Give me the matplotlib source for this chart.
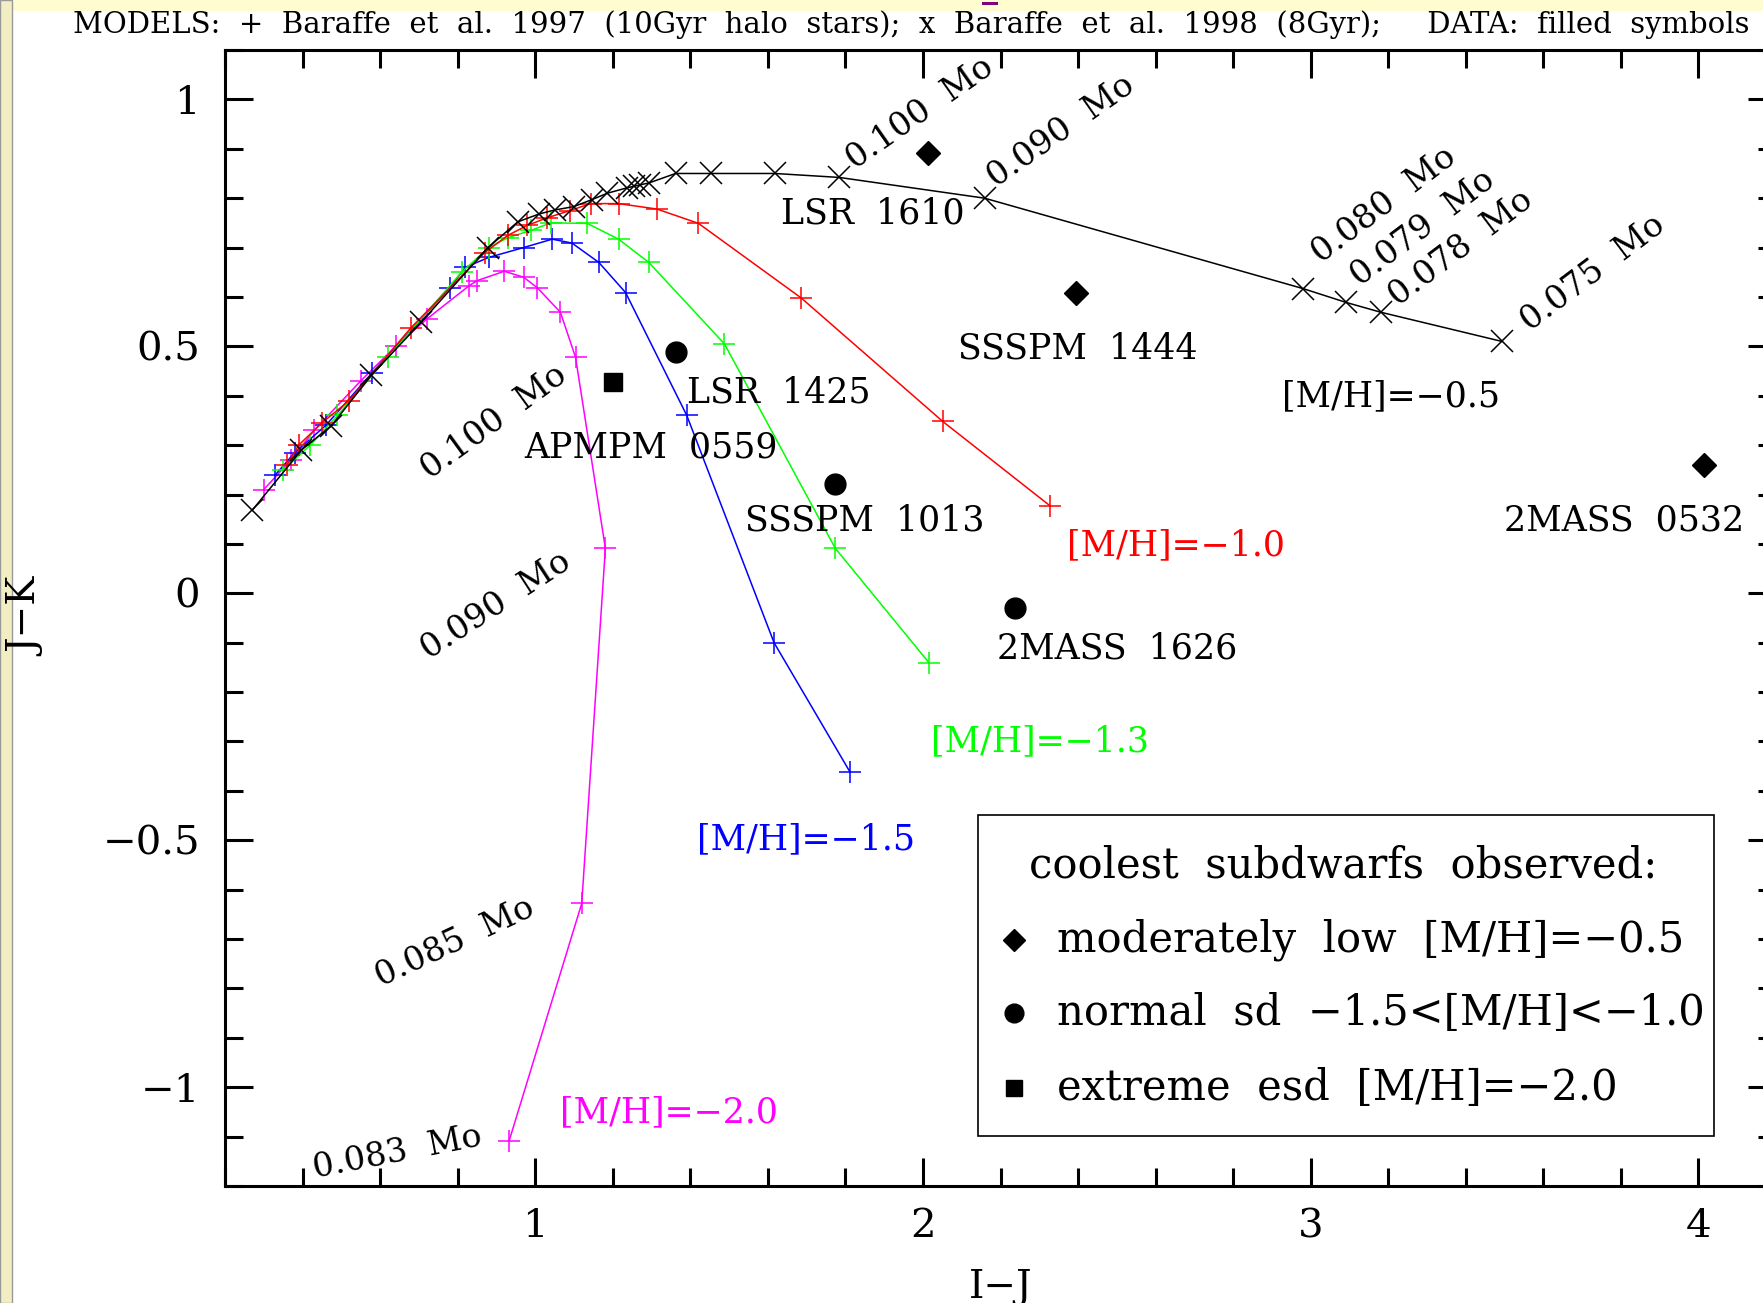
import matplotlib.pyplot as plt
from matplotlib.patches import Rectangle
from matplotlib.ticker import MultipleLocator, FuncFormatter

plt.rcParams['font.family'] = ['DejaVu Serif']

# models: I-J and J-K along each isochrone
# Baraffe et al. 1998 (8 Gyr), [M/H]=-0.5  (x symbols)
m05_ij = [0.27, 0.397, 0.474, 0.577, 0.706, 0.877, 0.955, 1.010, 1.05, 1.10, 1.146, 1.186,
          1.237, 1.254, 1.271, 1.294, 1.362, 1.453, 1.618, 1.784, 2.159, 2.980, 3.091, 3.181, 3.493]
m05_jk = [0.168, 0.290, 0.339, 0.441, 0.549, 0.699, 0.752, 0.768, 0.776, 0.783, 0.797, 0.810,
          0.821, 0.824, 0.827, 0.831, 0.850, 0.850, 0.850, 0.842, 0.800, 0.617, 0.589, 0.569, 0.510]

# Baraffe et al. 1997 (10 Gyr halo), + symbols
m10_ij = [0.36, 0.39, 0.45, 0.52, 0.68, 0.87, 0.93, 0.98, 1.03, 1.09, 1.143, 1.215, 1.314,
          1.421, 1.686, 2.051, 2.328]
m10_jk = [0.26, 0.30, 0.345, 0.39, 0.538, 0.69, 0.725, 0.745, 0.76, 0.775, 0.789, 0.789, 0.778,
          0.749, 0.598, 0.348, 0.177]

m13_ij = [0.35, 0.42, 0.49, 0.62, 0.81, 0.88, 0.93, 0.99, 1.04, 1.134, 1.215, 1.293, 1.488,
          1.774, 2.016]
m13_jk = [0.25, 0.30, 0.36, 0.478, 0.650, 0.70, 0.72, 0.735, 0.75, 0.749, 0.717, 0.670, 0.505,
          0.091, -0.141]

m15_ij = [0.33, 0.38, 0.46, 0.58, 0.78, 0.82, 0.88, 0.97, 1.044, 1.095, 1.164, 1.233, 1.391,
          1.616, 1.812]
m15_jk = [0.24, 0.285, 0.34, 0.447, 0.619, 0.66, 0.68, 0.70, 0.717, 0.709, 0.670, 0.609, 0.360,
          -0.100, -0.362]

m20_ij = [0.30, 0.37, 0.43, 0.55, 0.64, 0.72, 0.83, 0.85, 0.92, 0.97, 1.005, 1.065, 1.104,
          1.181, 1.120, 0.933]
m20_jk = [0.21, 0.27, 0.33, 0.43, 0.50, 0.555, 0.623, 0.633, 0.652, 0.640, 0.619, 0.569, 0.478,
          0.091, -0.628, -1.108]

# observed subdwarfs
diam_names = ['LSR  1610', 'SSSPM  1444', '2MASS  0532']
diam_ij = [2.014, 2.394, 4.015]
diam_jk = [0.891, 0.609, 0.259]
circ_names = ['LSR  1425', 'SSSPM  1013', '2MASS  1626']
circ_ij = [1.362, 1.774, 2.238]
circ_jk = [0.489, 0.222, -0.030]
sq_names = ['APMPM  0559']
sq_ij = [1.201]
sq_jk = [0.428]

# label positions (data coords)
name_xy = [(1.870, 0.769), (2.399, 0.496), (3.809, 0.148),
           (1.628, 0.407), (1.851, 0.148), (2.502, -0.111),
           (1.298, 0.296)]

mh_text = ['[M/H]=\u22120.5', '[M/H]=\u22121.0', '[M/H]=\u22121.3', '[M/H]=\u22121.5', '[M/H]=\u22122.0']
mh_xy = [(3.206, 0.398), (2.653, 0.098), (2.302, -0.300), (1.698, -0.498), (1.346, -1.051)]
colors = ['black', '#ff0000', '#00ff00', '#0000ff', '#ff00ff']

mass_text = ['0.100  Mo', '0.090  Mo', '0.080  Mo', '0.079  Mo', '0.078  Mo', '0.075  Mo',
             '0.100  Mo', '0.090  Mo', '0.085  Mo', '0.083  Mo']
mass_xy = [(1.993, 0.972), (2.355, 0.935), (3.190, 0.785), (3.289, 0.739), (3.388, 0.699),
           (3.727, 0.648), (0.895, 0.346), (0.898, -0.025), (0.793, -0.708), (0.644, -1.133)]
mass_rot = [35, 35, 37, 37, 37, 37, 36, 33, 25, 11]

fig = plt.figure(figsize=(17.63, 13.03), dpi=100)

# page decoration: pale top strip and left strip
fig.patches.append(Rectangle((0, 1 - 11 / 1303), 1, 11 / 1303, transform=fig.transFigure,
                             facecolor='#fffdd0', edgecolor='none', zorder=0))
fig.patches.append(Rectangle((0, 0), 12 / 1763, 1, transform=fig.transFigure,
                             facecolor='#f2eec4', edgecolor='#999999', lw=1, zorder=0))
fig.patches.append(Rectangle((982 / 1763, 1 - 5 / 1303), 16 / 1763, 3 / 1303,
                             transform=fig.transFigure, facecolor='#800080',
                             edgecolor='none', zorder=1))

ax = fig.add_axes([225 / 1763, 117 / 1303, 1551 / 1763, 1136 / 1303])
ax.set_xlim(0.2, 4.2)
ax.set_ylim(-1.2, 1.1)

series = [(m05_ij, m05_jk), (m10_ij, m10_jk), (m13_ij, m13_jk), (m15_ij, m15_jk), (m20_ij, m20_jk)]
for i in [4, 3, 2, 1, 0]:
    xs, ys = series[i]
    ax.plot(xs, ys, color=colors[i], lw=1.1, marker='x' if i == 0 else '+',
            ms=16, mew=1.1, zorder=3 if i == 0 else 2)

ax.plot(diam_ij, diam_jk, 'D', color='black', ms=12, ls='none', zorder=4)
ax.plot(circ_ij, circ_jk, 'o', color='black', ms=15, ls='none', zorder=4)
ax.plot(sq_ij, sq_jk, 's', color='black', ms=13, ls='none', zorder=4)

all_names = diam_names + circ_names + sq_names
for name, (x, y) in zip(all_names, name_xy):
    ax.text(x, y, name, fontsize=25, ha='center', va='center')

for t, (x, y), c in zip(mh_text, mh_xy, colors):
    ax.text(x, y, t, fontsize=25, ha='center', va='center', color=c)

for t, (x, y), r in zip(mass_text, mass_xy, mass_rot):
    ax.text(x, y, t, fontsize=24, ha='center', va='center', rotation=r)

# legend box
ax.add_patch(Rectangle((2.143, -1.099), 4.040 - 2.143, 1.099 - 0.449, fill=False,
                       edgecolor='black', lw=1.2, zorder=5))
ax.text(3.084, -0.551, 'coolest  subdwarfs  observed:', fontsize=30, ha='center', va='center')
leg_rows = [('D', 12, 'moderately  low  [M/H]=\u22120.5', -0.702),
            ('o', 15, 'normal  sd  \u22121.5<[M/H]<\u22121.0', -0.850),
            ('s', 13, 'extreme  esd  [M/H]=\u22122.0', -1.002)]
for mk, ms, label, y in leg_rows:
    ax.plot([2.234], [y], mk, color='black', ms=ms * 0.9)
    ax.text(2.345, y, label, fontsize=30, ha='left', va='center')

ax.xaxis.set_major_locator(MultipleLocator(1))
ax.xaxis.set_minor_locator(MultipleLocator(0.2))
ax.yaxis.set_major_locator(MultipleLocator(0.5))
ax.yaxis.set_minor_locator(MultipleLocator(0.1))
ax.yaxis.set_major_formatter(FuncFormatter(lambda v, p: ('%g' % v).replace('-', '\u2212')))
ax.tick_params(which='both', direction='in', top=True, right=True, width=2.2)
ax.tick_params(which='major', length=20, labelsize=29)
ax.tick_params(which='minor', length=13)
ax.tick_params(axis='x', pad=16)
ax.tick_params(axis='y', pad=18)
for s in ax.spines.values():
    s.set_linewidth(2.2)

fig.text(1001 / 1763, 1 - 1288 / 1303, 'I\u2212J', fontsize=28, ha='center', va='center')
fig.text(28 / 1763, 1 - 617 / 1303, 'J\u2212K', fontsize=28, ha='center', va='center', rotation=90)
fig.text(73 / 1763, 1 - 25 / 1303,
         'MODELS:  +  Baraffe  et  al.  1997  (10Gyr  halo  stars);  x  Baraffe  et  al.  1998  (8Gyr);'
         '     DATA:  filled  symbols', fontsize=21, ha='left', va='center')

fig.savefig('out.png', dpi=100)
